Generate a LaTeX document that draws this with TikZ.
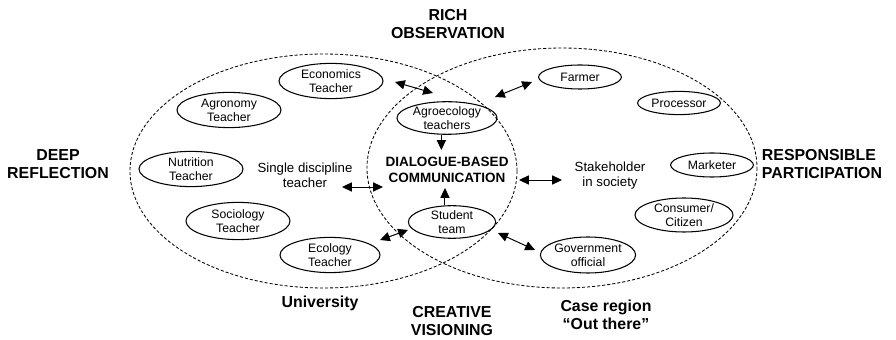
\documentclass[tikz,border=0pt]{standalone}
\usepackage{fontspec}
\setmainfont{Liberation Sans}
\usetikzlibrary{shapes.geometric,arrows.meta}

\tikzset{
  role/.style={ellipse, draw, line width=0.75pt, inner sep=0pt, align=center,
    minimum width=2.6cm, minimum height=0.88cm, font=\fontsize{8.7}{10}\selectfont},
  single/.style={role, minimum width=2.07cm, minimum height=0.6cm},
  arena/.style={draw, line width=0.6pt, dash pattern=on 2.2pt off 1.4pt},
  plain/.style={align=center, font=\fontsize{9.4}{10.7}\selectfont},
  core/.style={align=center, font=\bfseries\fontsize{9.6}{11}\selectfont},
  mode/.style={align=center, font=\bfseries\fontsize{11.3}{12.8}\selectfont},
  link/.style={line width=0.7pt, {Triangle[length=7pt,width=6.5pt]}-{Triangle[length=7pt,width=6.5pt]}},
  push/.style={line width=0.7pt, -{Triangle[length=7pt,width=6.5pt]}}
}

\begin{document}
\begin{tikzpicture}[x=0.025cm, y=-0.025cm]
\useasboundingbox (0,0) rectangle (896,340);

% University and case region
\draw[arena] (323.5,171) ellipse [x radius=193.5, y radius=117];
\draw[arena] (562,168) ellipse [x radius=195, y radius=120];

% Four learning modes
\node[mode] (obs) at (448,24) {RICH\\OBSERVATION};
\node[mode] (refl) at (58,164) {DEEP\\REFLECTION};
\node[mode, align=left] (part) at (822,164) {RESPONSIBLE\\PARTICIPATION};
\node[mode] (vis) at (452,321) {CREATIVE\\VISIONING};
\node[mode] (uni) at (320,303) {University};
\node[mode] (case) at (606,315) {Case region\\``Out there''};

% Teachers at the university
\node[role] (econ) at (331,81) {Economics\\Teacher};
\node[role] (agron) at (229,110) {Agronomy\\Teacher};
\node[role] (nutr) at (191,169) {Nutrition\\Teacher};
\node[role, minimum height=0.93cm] (socio) at (238,221) {Sociology\\Teacher};
\node[role, minimum width=2.5cm] (ecol) at (330,255) {Ecology\\Teacher};
\node[plain] (disc) at (305,175) {Single discipline\\teacher};

% Stakeholders out there
\node[single] (farmer) at (580,77) {Farmer};
\node[single, minimum height=0.58cm] (proc) at (679,103) {Processor};
\node[single] (market) at (712,165) {Marketer};
\node[role, minimum width=2.45cm, minimum height=0.85cm] (consum) at (684,215) {Consumer/\\Citizen};
\node[role, minimum width=2.25cm, minimum height=0.9cm] (gov) at (588,255) {Government\\official};
\node[plain] (stake) at (610,176) {Stakeholder\\in society};

% Overlap
\node[role, minimum width=2.5cm, minimum height=0.75cm] (agro) at (447,118) {Agroecology\\teachers};
\node[core] (dialog) at (447,170) {DIALOGUE-BASED\\COMMUNICATION};
\node[role, minimum width=2.18cm, minimum height=0.75cm] (student) at (452,222) {Student\\team};

% Free ends of the exchange arrows
\coordinate (econ-out) at (395,82);
\coordinate (econ-in) at (433,93);
\coordinate (farm-in) at (495,97);
\coordinate (farm-out) at (532,82);
\coordinate (disc-out) at (342,187);
\coordinate (disc-in) at (383,187);
\coordinate (stake-in) at (519,180);
\coordinate (stake-out) at (562,180);
\coordinate (ecol-out) at (380,240);
\coordinate (ecol-in) at (408,230);
\coordinate (gov-in) at (498,233);
\coordinate (gov-out) at (535,250);

\draw[link] (econ-out) -- (econ-in);
\draw[link] (farm-in) -- (farm-out);
\draw[link] (disc-out) -- (disc-in);
\draw[link] (stake-in) -- (stake-out);
\draw[link] (ecol-out) -- (ecol-in);
\draw[link] (gov-in) -- (gov-out);

% Into the dialogue
\draw[push] ([xshift=-4]agro.south) -- ([xshift=-4]agro.south |- 0,150);
\draw[push] ([xshift=-5]student.north) -- ([xshift=-5]student.north |- 0,188);

\end{tikzpicture}
\end{document}
